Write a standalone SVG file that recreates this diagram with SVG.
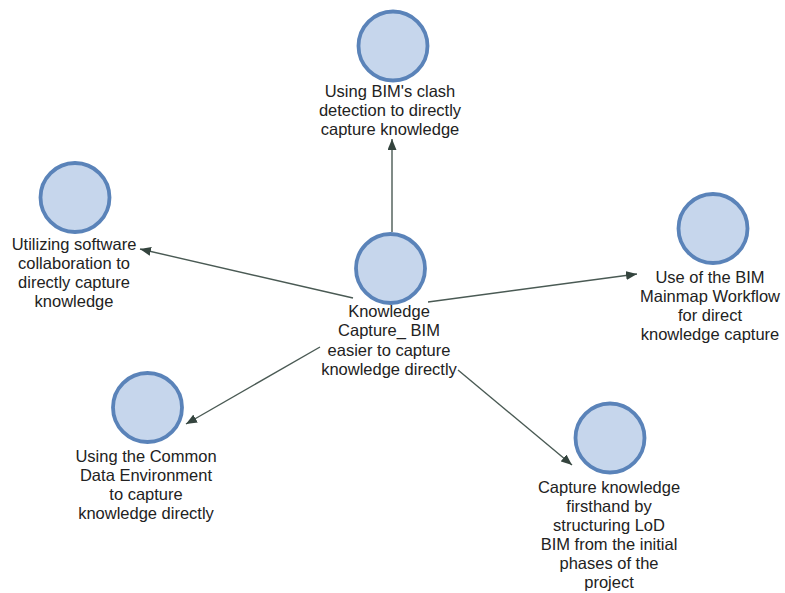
<svg xmlns="http://www.w3.org/2000/svg" width="785" height="593" viewBox="0 0 785 593">
<style>
  .node circle { fill: #c6d6ec; stroke: #5a83b9; stroke-width: 3.8; }
  .node text { font-family: "Liberation Sans", Arial, sans-serif; font-size: 16.5px; fill: #222222; text-anchor: middle; }
  .edges path { stroke: #4a5a54; stroke-width: 1.4; fill: none; marker-end: url(#arrow); }
</style>
<defs>
  <marker id="arrow" markerUnits="userSpaceOnUse" markerWidth="11" markerHeight="9" refX="11" refY="4.5" orient="auto">
    <path d="M0,0 L11,4.5 L0,9 z" fill="#34443e"/>
  </marker>
</defs>
<rect width="785" height="593" fill="#ffffff"/>
<g id="edges" class="edges">
  <path d="M392,232 L392,139"/>
  <path d="M353,298 L140,249"/>
  <path d="M428,302 L637,274"/>
  <path d="M320,347 L186,424"/>
  <path d="M458,370 L572,465"/>
</g>
<g id="center" class="node">
  <circle cx="390.5" cy="268.5" r="34.5"/>
  <text x="389" y="317">Knowledge</text>
  <text x="389" y="336">Capture_ BIM</text>
  <text x="389" y="356">easier to capture</text>
  <text x="389" y="375">knowledge directly</text>
</g>
<g id="clash" class="node">
  <circle cx="393" cy="46" r="34.5"/>
  <text x="390" y="97">Using BIM's clash</text>
  <text x="390" y="116">detection to directly</text>
  <text x="390" y="135">capture knowledge</text>
</g>
<g id="software" class="node">
  <circle cx="75" cy="197.5" r="34.5"/>
  <text x="74" y="250">Utilizing software</text>
  <text x="74" y="269">collaboration to</text>
  <text x="74" y="288">directly capture</text>
  <text x="74" y="307">knowledge</text>
</g>
<g id="mainmap" class="node">
  <circle cx="713" cy="228.5" r="34.5"/>
  <text x="710" y="283">Use of the BIM</text>
  <text x="710" y="302">Mainmap Workflow</text>
  <text x="710" y="321">for direct</text>
  <text x="710" y="340">knowledge capture</text>
</g>
<g id="cde" class="node">
  <circle cx="147.5" cy="407.5" r="34.5"/>
  <text x="146" y="462">Using the Common</text>
  <text x="146" y="481">Data Environment</text>
  <text x="146" y="500">to capture</text>
  <text x="146" y="519">knowledge directly</text>
</g>
<g id="lod" class="node">
  <circle cx="610" cy="438" r="34.5"/>
  <text x="609" y="493">Capture knowledge</text>
  <text x="609" y="512">firsthand by</text>
  <text x="609" y="531">structuring LoD</text>
  <text x="609" y="550">BIM from the initial</text>
  <text x="609" y="569">phases of the</text>
  <text x="609" y="588">project</text>
</g>
</svg>
